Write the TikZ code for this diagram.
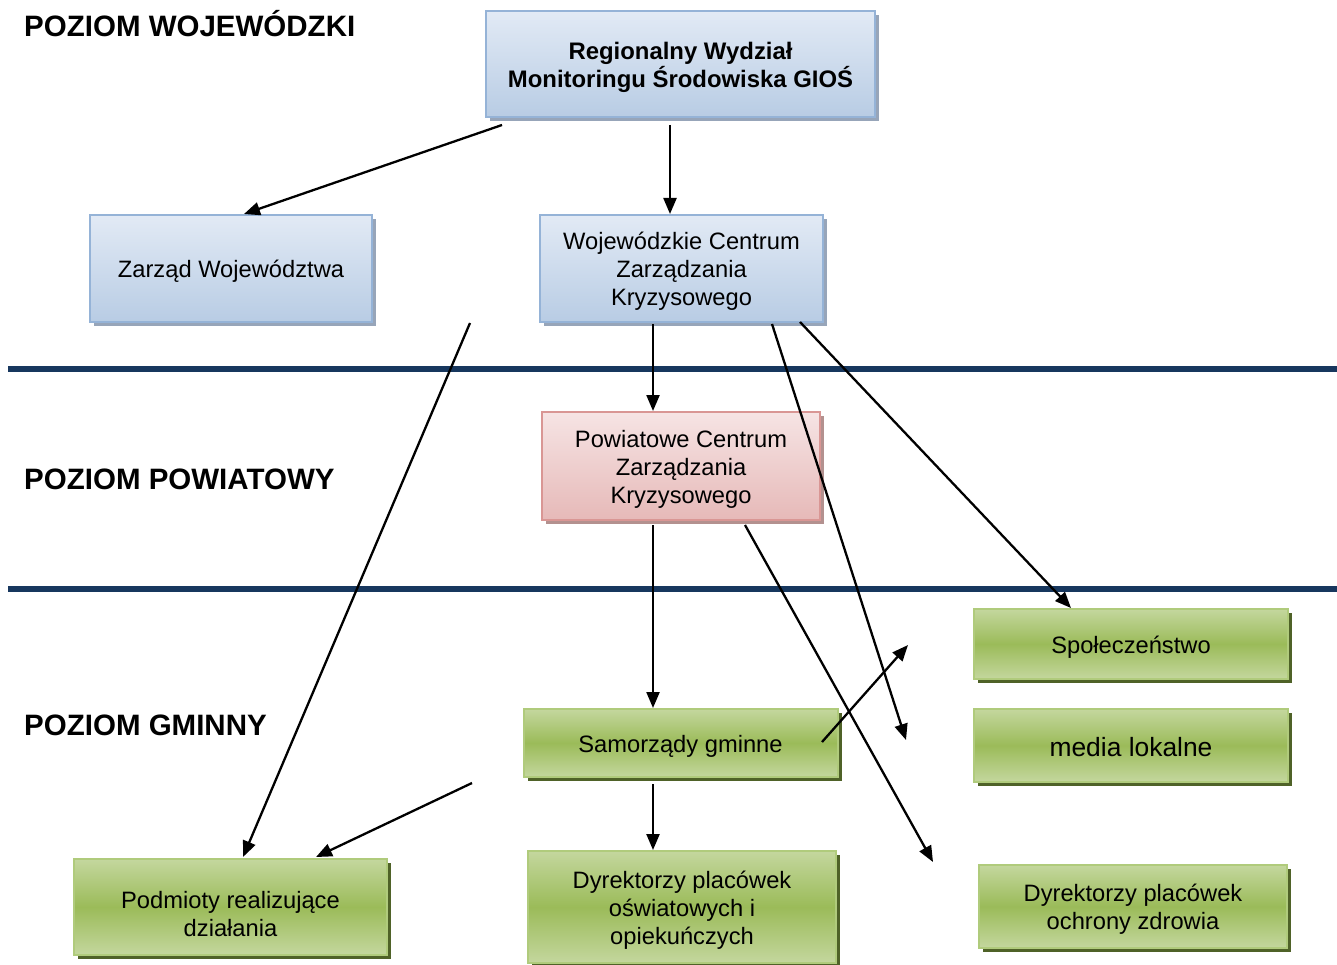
\documentclass[tikz,border=0pt]{standalone}
\usepackage{fontspec}
\setmainfont{Liberation Sans}
\usetikzlibrary{calc,shadows,arrows.meta}
\definecolor{barc}{HTML}{17375E}
\definecolor{bluetop}{HTML}{E2EAF5}
\definecolor{bluebot}{HTML}{B8CCE4}
\definecolor{blueline}{HTML}{95B3D7}
\definecolor{blueshadow}{HTML}{97A5B9}
\definecolor{pinktop}{HTML}{F6E4E4}
\definecolor{pinkbot}{HTML}{E6B9B8}
\definecolor{pinkline}{HTML}{D99694}
\definecolor{pinkshadow}{HTML}{B3918F}
\definecolor{greenlight}{HTML}{C4D79E}
\definecolor{greenmid}{HTML}{9BBB59}
\definecolor{greenline}{HTML}{B0CB7C}
\definecolor{greenshadow}{HTML}{4F6228}
\begin{document}
\begin{tikzpicture}[x=1pt,y=-1pt,
  boxbase/.style={rectangle, line width=2pt, inner sep=0pt},
  bluebox/.style={boxbase, draw=blueline, top color=bluetop, bottom color=bluebot,
    drop shadow={shadow xshift=4pt, shadow yshift=-4pt, fill=blueshadow, opacity=1}},
  pinkbox/.style={boxbase, draw=pinkline, top color=pinktop, bottom color=pinkbot,
    drop shadow={shadow xshift=4pt, shadow yshift=-4pt, fill=pinkshadow, opacity=1}},
  greenbox/.style={boxbase, draw=greenline, top color=greenlight, bottom color=greenlight,
    middle color=greenmid,
    drop shadow={shadow xshift=4pt, shadow yshift=-4pt, fill=greenshadow, opacity=1}},
  txt/.style={align=center, inner sep=0pt, font=\fontsize{23.7}{28}\selectfont},
  head/.style={inner sep=0pt, anchor=base west, font=\fontsize{29.5}{34}\selectfont\bfseries},
  levelbar/.style={barc, line width=6pt},
  arr/.style={line width=2.3pt, -{Triangle[length=16pt,width=13pt]}}
]
\useasboundingbox (0,0) rectangle (1337,965);

% level separators
\coordinate (b1l) at (8,368.5);
\coordinate (b1r) at (1337,368.5);
\coordinate (b2l) at (8,588.5);
\coordinate (b2r) at (1337,588.5);
\draw[levelbar] (b1l) -- (b1r);
\draw[levelbar] (b2l) -- (b2r);

% level headings
\node[head] (hw) at (24,37) {POZIOM WOJEWÓDZKI};
\node[head] (hp) at (24,489) {POZIOM POWIATOWY};
\node[head] (hg) at (24,735) {POZIOM GMINNY};

% boxes
\node[bluebox, minimum width=389pt, minimum height=106pt] (top) at (680.5,64) {};
\node[txt, font=\fontsize{23.9}{28}\selectfont\bfseries] (topt) at ($(top)+(0,3)$)
  {Regionalny Wydział\\Monitoringu Środowiska GIOŚ};
\node[bluebox, minimum width=282pt, minimum height=107pt] (zarz) at (231,268.5) {};
\node[txt] (zarzt) at ($(zarz)+(0,3)$) {Zarząd Województwa};
\node[bluebox, minimum width=283pt, minimum height=107pt] (wczk) at (681.5,268.5) {};
\node[txt] (wczkt) at ($(wczk)+(0,3)$) {Wojewódzkie Centrum\\Zarządzania\\Kryzysowego};
\node[pinkbox, minimum width=278pt, minimum height=108pt] (pczk) at (681,466) {};
\node[txt] (pczkt) at ($(pczk)+(0,3)$) {Powiatowe Centrum\\Zarządzania\\Kryzysowego};
\node[greenbox, minimum width=314pt, minimum height=70pt] (spol) at (1131,644) {};
\node[txt] (spolt) at ($(spol)+(0,3)$) {Społeczeństwo};
\node[greenbox, minimum width=314pt, minimum height=73pt] (media) at (1131,745.5) {};
\node[txt, font=\fontsize{26.4}{30}\selectfont] (mediat) at ($(media)+(0,2)$) {media lokalne};
\node[greenbox, minimum width=314pt, minimum height=68pt] (samo) at (680.5,743) {};
\node[txt] (samot) at ($(samo)+(0,3)$) {Samorządy gminne};
\node[greenbox, minimum width=313pt, minimum height=96pt] (podm) at (230.5,907) {};
\node[txt] (podmt) at ($(podm)+(0,7)$) {Podmioty realizujące\\działania};
\node[greenbox, minimum width=308pt, minimum height=112pt] (dyro) at (682,907) {};
\node[txt] (dyrot) at ($(dyro)+(0,3.5)$) {Dyrektorzy placówek\\oświatowych i\\opiekuńczych};
\node[greenbox, minimum width=308pt, minimum height=83pt] (dyrz) at (1133,906.5) {};
\node[txt] (dyrzt) at ($(dyrz)+(0,3)$) {Dyrektorzy placówek\\ochrony zdrowia};

% free ends of connectors
\coordinate (s3) at (470,323);
\coordinate (s4) at (472,783);
\coordinate (e6) at (906,740);
\coordinate (e9) at (933,862);
\coordinate (e10) at (908,645);

% connectors
\draw[arr] ($(top.south west)+(17,7)$) -- ($(zarz.north)+(13,0)$);
\draw[arr] ($(top.south)+(-10.5,7)$) -- ($(wczk.north)+(-11.5,0)$);
\draw[arr] (s3) -- ($(podm.north)+(12.5,-1)$);
\draw[arr] (s4) -- ($(podm.north)+(85.5,-1)$);
\draw[arr] ($(wczk.south)+(-28.5,1)$) -- ($(pczk.north)+(-28,0)$);
\draw[arr] ($(wczk.south)+(90.5,1)$) -- (e6);
\draw[arr] ($(wczk.south)+(118.5,-1)$) -- ($(spol.north)+(-60,0)$);
\draw[arr] ($(pczk.south)+(-28,4)$) -- ($(samo.north)+(-27.5,0)$);
\draw[arr] ($(pczk.south)+(64,4)$) -- (e9);
\draw[arr] ($(samo.east)+(-16.5,-1)$) -- (e10);
\draw[arr] ($(samo.south)+(-27.5,6)$) -- ($(dyro.north)+(-29,0)$);
\end{tikzpicture}
\end{document}
